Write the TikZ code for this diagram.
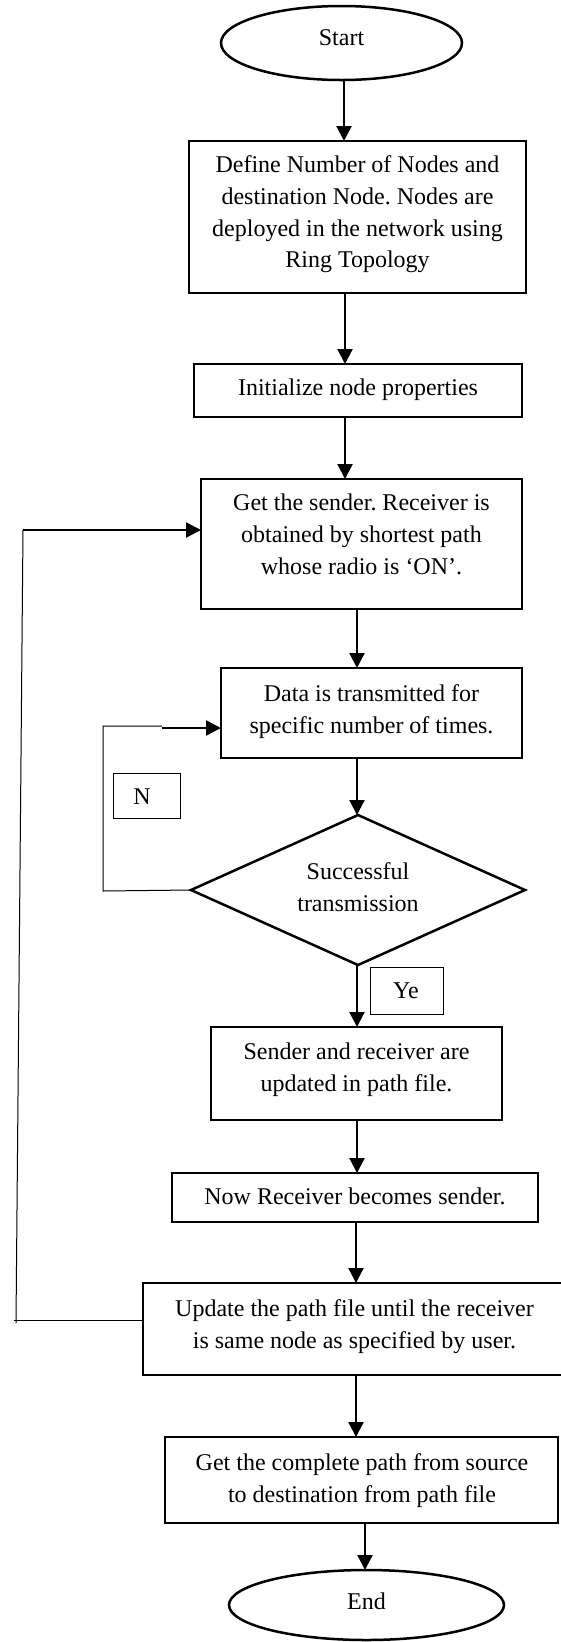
\documentclass[tikz,border=0pt]{standalone}
\usepackage{fontspec}
\setmainfont{Liberation Serif}
\frenchspacing
\usetikzlibrary{arrows.meta,shapes.geometric}
\begin{document}
\begin{tikzpicture}[x=1pt,y=-1pt,
  every node/.style={inner sep=0pt,outer sep=0pt},
  box/.style={draw,line width=2.5pt,rectangle},
  tag/.style={draw,line width=1pt,rectangle},
  oval/.style={draw,line width=2.5pt,ellipse},
  decision/.style={draw,line width=2.5pt,diamond},
  txt/.style={align=center,font=\fontsize{24}{31.7}\selectfont},
  arr/.style={line width=2.2pt,-{Triangle[length=15pt,width=15pt]}},
  thinline/.style={line width=1pt},
]
\path[use as bounding box,fill=white] (0,0) rectangle (561,1642);

% shapes
\node[oval,minimum width=241pt,minimum height=74pt] (start) at (341.5,43) {};
\node[box,minimum width=337pt,minimum height=152pt] (b1) at (357.5,217) {};
\node[box,minimum width=328pt,minimum height=53pt] (init) at (358,390.5) {};
\node[box,minimum width=321pt,minimum height=130pt] (b3) at (361.5,544) {};
\node[box,minimum width=301pt,minimum height=90pt] (b4) at (371.5,713) {};
\node[decision,minimum width=334pt,minimum height=150pt] (dia) at (358,890) {};
\node[box,minimum width=291pt,minimum height=93pt] (b5) at (356.5,1073.5) {};
\node[box,minimum width=366pt,minimum height=49pt] (b6) at (355,1197.5) {};
\node[box,minimum width=423pt,minimum height=92pt] (b7) at (354.5,1329) {};
\node[box,minimum width=393pt,minimum height=86pt] (b8) at (361.5,1480) {};
\node[oval,minimum width=275pt,minimum height=70pt] (end) at (366.5,1605) {};
\node[tag,minimum width=67pt,minimum height=45pt] (nbox) at (146.5,795.5) {};
\node[tag,minimum width=73pt,minimum height=47pt] (ybox) at (406.5,990.5) {};

% texts
\node[txt] (tstart) at (341.5,39) {\strut Start};
\node[txt] (t1) at (357.5,214) {\strut Define Number of Nodes and\\\strut destination Node. Nodes are\\\strut deployed in the network using\\\strut Ring Topology};
\node[txt] (ti) at (358,389) {\strut Initialize node properties};
\node[txt] (t3) at (361.5,536) {\strut Get the sender. Receiver is\\\strut obtained by shortest path\\\strut whose radio is ‘ON’.};
\node[txt] (t4) at (371.5,711) {\strut Data is transmitted for\\\strut specific number of times.};
\node[txt] (td) at (358,889) {\strut Successful\\\strut transmission};
\node[txt] (t5) at (356.5,1069) {\strut Sender and receiver are\\\strut updated in path file.};
\node[txt] (t6) at (355,1198) {\strut Now Receiver becomes sender.};
\node[txt] (t7) at (354.5,1326) {\strut Update the path file until the receiver\\\strut is same node as specified by user.};
\node[txt] (t8) at (362,1480) {\strut Get the complete path from source\\\strut to destination from path file};
\node[txt] (tend) at (366.5,1603) {\strut End};
\node[txt] (tn) at (142,798) {\strut N};
\node[txt] (ty) at (406,992) {\strut Ye};

% main flow
\draw[arr] ([xshift=2.5pt]start.south) -- ([xshift=2.5pt]start.south |- b1.north);
\draw[arr] ([xshift=-12.5pt]b1.south) -- ([xshift=-12.5pt]b1.south |- init.north);
\draw[arr] ([xshift=-13pt]init.south) -- ([xshift=-13pt]init.south |- b3.north);
\draw[arr] ([xshift=-4.5pt]b3.south) -- ([xshift=-4.5pt]b3.south |- b4.north);
\draw[arr] ([xshift=-14.5pt]b4.south) -- ([xshift=-14.5pt]b4.south |- dia.north);
\draw[arr] ([xshift=-1pt]dia.south) -- ([xshift=-1pt]dia.south |- b5.north);
\draw[arr] ([xshift=0.5pt]b5.south) -- ([xshift=0.5pt]b5.south |- b6.north);
\draw[arr] ([xshift=1pt]b6.south) -- ([xshift=1pt]b6.south |- b7.north);
\draw[arr] ([xshift=1.5pt]b7.south) -- ([xshift=1.5pt]b7.south |- b8.north);
\draw[arr] ([xshift=3.5pt]b8.south) -- ([xshift=3.5pt]b8.south |- end.north);

% N loop
\coordinate (n1) at (103,891);
\coordinate (n2) at (103,726);
\coordinate (n3) at (162,726);
\coordinate (n4) at (162,728);
\draw[thinline] (dia.west) -- (n1) -- (n2) -- (n3);
\draw[arr] (n4) -- (b4.west |- n4);

% big loop
\coordinate (l0) at (14,1320);
\coordinate (l1) at (16,1323);
\coordinate (l2) at (23,530);
\draw[thinline] (b7.west |- l0) -- (l0);
\draw[thinline] (l1) -- (l2);
\draw[arr] (l2) -- (b3.west |- l2);
\end{tikzpicture}
\end{document}
